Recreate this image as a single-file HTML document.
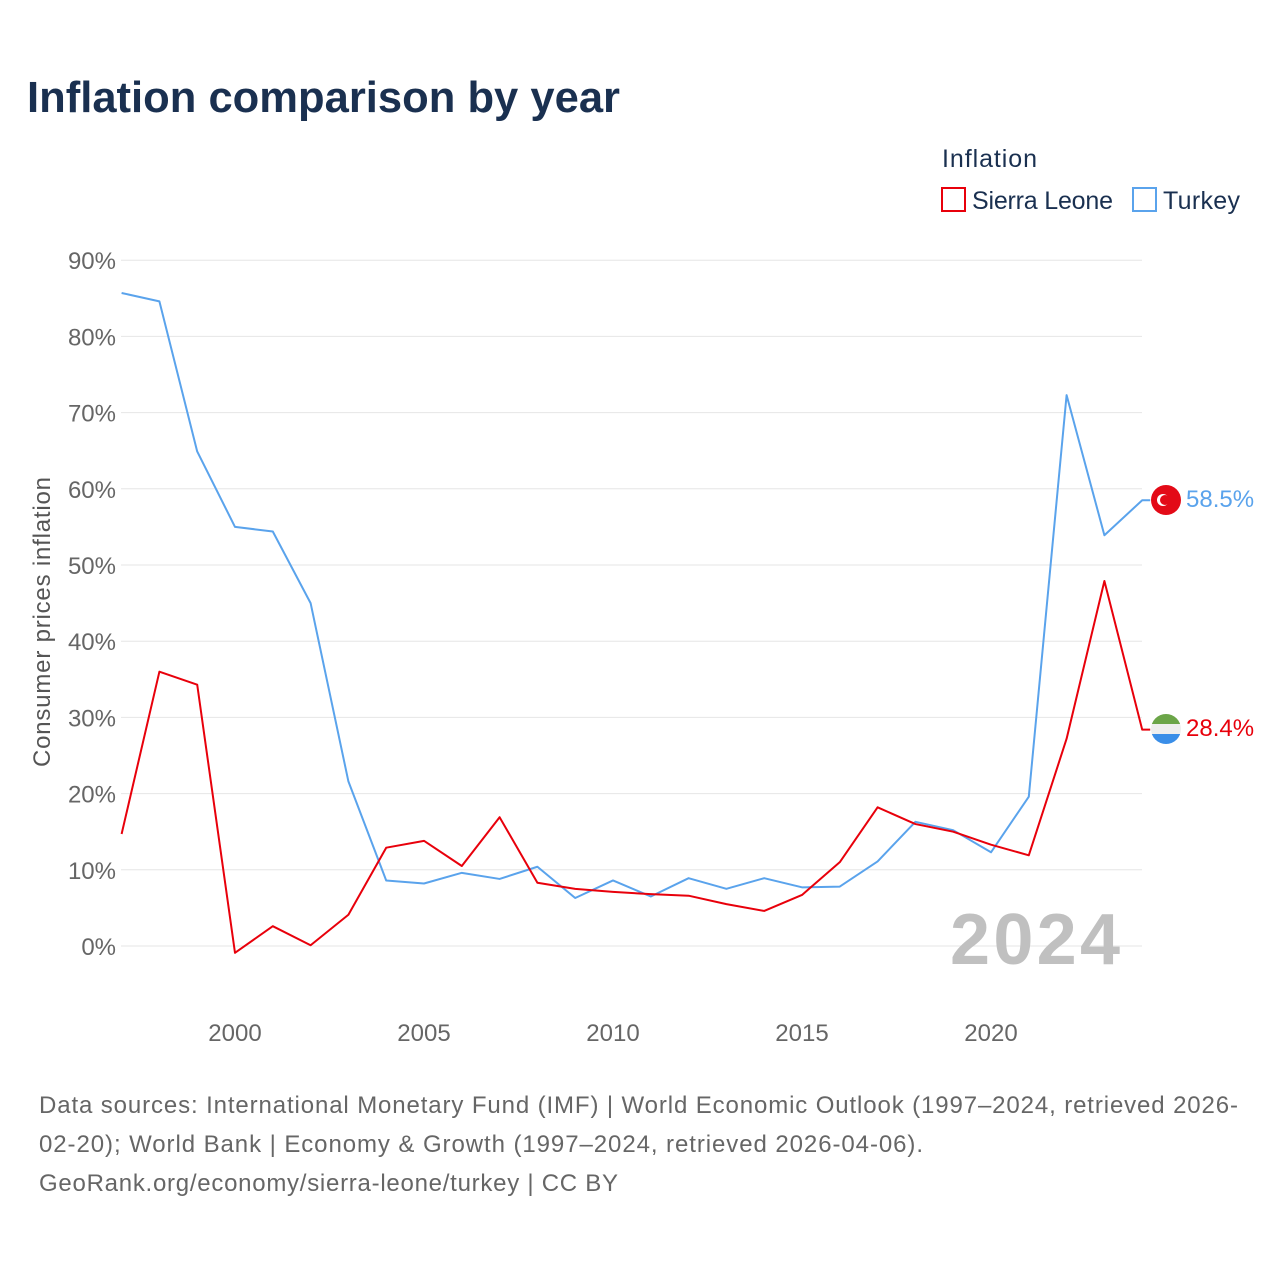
<!DOCTYPE html>
<html><head><meta charset="utf-8">
<style>
body{margin:0;background:#fff;font-family:"Liberation Sans",sans-serif}
</style></head>
<body>
<svg width="1280" height="1280" viewBox="0 0 1280 1280" xmlns="http://www.w3.org/2000/svg">
<rect width="1280" height="1280" fill="#fff"/>
<text x="27" y="112" font-size="44" font-weight="bold" fill="#1a3050" textLength="593" lengthAdjust="spacingAndGlyphs">Inflation comparison by year</text>
<text x="942" y="167" font-size="25" fill="#1a3050" textLength="95">Inflation</text>
<g>
<rect x="942" y="188" width="23" height="23" fill="none" stroke="#e8000b" stroke-width="2"/>
<text x="972" y="209" font-size="25" fill="#1a3050" textLength="141">Sierra Leone</text></g>
<g>
<rect x="1133" y="188" width="23" height="23" fill="none" stroke="#5aa3ec" stroke-width="2"/>
<text x="1163" y="209" font-size="25" fill="#1a3050" textLength="77">Turkey</text></g>
<g id="grid"></g>
<g id="yt"></g>
<g id="xt"></g>
<text transform="translate(50,622) rotate(-90)" text-anchor="middle" font-size="24" fill="#555" textLength="290">Consumer prices inflation</text>
<text x="1120" y="964" text-anchor="end" font-size="72" font-weight="bold" fill="#c0c0c0" textLength="170">2024</text>
<g id="lines"></g>
<g><circle cx="1166" cy="500" r="15" fill="#e30a17"/><circle cx="1163" cy="500" r="6" fill="#fff"/><circle cx="1165" cy="500" r="5" fill="#e30a17"/></g>
<g><clipPath id="c"><circle cx="1166" cy="729" r="15"/></clipPath><g clip-path="url(#c)"><rect x="1150" y="714" width="32" height="10" fill="#6ba548"/><rect x="1150" y="724" width="32" height="10" fill="#eee"/><rect x="1150" y="734" width="32" height="10" fill="#3a8ee8"/></g></g>
<text id="tl" x="1186" y="507" font-size="24" fill="#5aa3ec"></text>
<text id="sl" x="1186" y="736" font-size="24" fill="#e8000b"></text>
<g font-size="24" fill="#666">
<text x="39" y="1113" textLength="1199">Data sources: International Monetary Fund (IMF) | World Economic Outlook (1997–2024, retrieved 2026-</text>
<text x="39" y="1152" textLength="884">02-20); World Bank | Economy &amp; Growth (1997–2024, retrieved 2026-04-06).</text>
<text x="39" y="1191" textLength="579">GeoRank.org/economy/sierra-leone/turkey | CC BY</text></g>
</svg>
<script>
const years=[1997,1998,1999,2000,2001,2002,2003,2004,2005,2006,2007,2008,2009,2010,2011,2012,2013,2014,2015,2016,2017,2018,2019,2020,2021,2022,2023,2024];
const sierraLeone=[14.7,36.0,34.3,-0.9,2.6,0.1,4.1,12.9,13.8,10.5,16.9,8.3,7.5,7.1,6.8,6.6,5.5,4.6,6.7,11.0,18.2,16.0,15.0,13.3,11.9,27.2,47.9,28.4];
const turkey=[85.7,84.6,64.9,55.0,54.4,45.0,21.6,8.6,8.2,9.6,8.8,10.4,6.3,8.6,6.5,8.9,7.5,8.9,7.7,7.8,11.1,16.3,15.2,12.3,19.6,72.3,53.9,58.5];
const yTicks=[0,10,20,30,40,50,60,70,80,90];
const xTicks=[2000,2005,2010,2015,2020];
const NS="http://www.w3.org/2000/svg";
const x=v=>121.6+(v-1997)*37.8;
const y=v=>946-v*7.62;
function mk(t,a,p){const e=document.createElementNS(NS,t);for(const k in a)e.setAttribute(k,a[k]);p.appendChild(e);return e;}
const g=document.getElementById('grid'),yt=document.getElementById('yt'),xt=document.getElementById('xt'),L=document.getElementById('lines');
yTicks.forEach(v=>{const l=mk('line',{x1:121,x2:1142,y1:y(v),y2:y(v),stroke:'#e6e6e6','stroke-width':1},g);


const t=mk('text',{x:116,y:y(v)+9,'text-anchor':'end','font-size':24,fill:'#666'},yt);t.textContent=v+'%';

});
xTicks.forEach(v=>{const t=mk('text',{x:x(v),y:1041,'text-anchor':'middle','font-size':24,fill:'#666'},xt);t.textContent=v;

});
function line(d,c,n){const pts=d.map((v,i)=>x(years[i])+','+y(v));pts.push((x(years[years.length-1])+8)+','+y(d[d.length-1]));
const p=mk('polyline',{points:pts.join(' '),fill:'none',stroke:c,'stroke-width':2,'stroke-linejoin':'round'},L);

}
line(turkey,'#5aa3ec','turkey-line');
line(sierraLeone,'#e8000b','sierra-leone-line');
document.getElementById('tl').textContent=turkey[turkey.length-1].toFixed(1)+'%';
document.getElementById('sl').textContent=sierraLeone[sierraLeone.length-1].toFixed(1)+'%';
</script>
</body></html>
